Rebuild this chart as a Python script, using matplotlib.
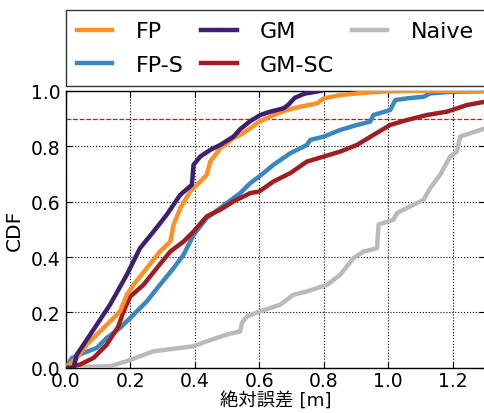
import matplotlib
matplotlib.use('Agg')
import matplotlib.pyplot as plt

plt.rcParams['font.family'] = ['DejaVu Sans', 'Noto Sans CJK JP']

# CDF curves (x = absolute error [m], y = CDF)
fp_x = [0.0, 0.034, 0.065, 0.106, 0.148, 0.168, 0.189, 0.21, 0.251, 0.292, 0.324, 0.334,
        0.355, 0.386, 0.417, 0.437, 0.448, 0.479, 0.52, 0.541, 0.572, 0.6, 0.644, 0.686,
        0.727, 0.779, 0.8, 0.851, 0.903, 0.975, 1.058, 1.3]
fp_y = [0.0, 0.036, 0.084, 0.132, 0.18, 0.204, 0.264, 0.3, 0.36, 0.42, 0.456, 0.517,
        0.577, 0.637, 0.673, 0.697, 0.745, 0.793, 0.829, 0.841, 0.865, 0.889, 0.913, 0.931,
        0.943, 0.955, 0.973, 0.985, 0.991, 0.997, 1.0, 1.0]

fps_x = [0.0, 0.003, 0.019, 0.055, 0.096, 0.127, 0.168, 0.21, 0.251, 0.292, 0.334, 0.365,
         0.396, 0.437, 0.479, 0.52, 0.541, 0.572, 0.6, 0.644, 0.696, 0.748, 0.758, 0.8,
         0.851, 0.903, 0.944, 0.954, 1.006, 1.022, 1.058, 1.11, 1.13, 1.2, 1.3]
fps_y = [0.0, 0.006, 0.036, 0.054, 0.072, 0.108, 0.144, 0.192, 0.24, 0.3, 0.36, 0.408,
         0.48, 0.541, 0.577, 0.613, 0.631, 0.667, 0.691, 0.733, 0.775, 0.805, 0.823, 0.835,
         0.859, 0.877, 0.889, 0.913, 0.931, 0.967, 0.973, 0.979, 0.991, 0.997, 0.999]

gm_x = [0.0, 0.024, 0.034, 0.055, 0.096, 0.137, 0.189, 0.23, 0.272, 0.313, 0.355, 0.391,
        0.396, 0.417, 0.448, 0.479, 0.52, 0.541, 0.572, 0.603, 0.634, 0.675, 0.69, 0.71,
        0.74, 0.79]
gm_y = [0.0, 0.0, 0.048, 0.084, 0.156, 0.228, 0.336, 0.432, 0.492, 0.553, 0.625, 0.661,
        0.733, 0.763, 0.787, 0.805, 0.835, 0.862, 0.891, 0.913, 0.925, 0.937, 0.95, 0.975,
        0.99, 1.0]

gmsc_x = [0.0, 0.003, 0.044, 0.086, 0.127, 0.163, 0.179, 0.2, 0.241, 0.282, 0.324, 0.365,
          0.396, 0.437, 0.479, 0.52, 0.541, 0.572, 0.6, 0.644, 0.696, 0.748, 0.8, 0.851,
          0.903, 0.954, 1.006, 1.058, 1.12, 1.182, 1.244, 1.3]
gmsc_y = [0.0, 0.002, 0.012, 0.036, 0.084, 0.15, 0.204, 0.258, 0.3, 0.36, 0.42, 0.456,
          0.492, 0.547, 0.571, 0.601, 0.613, 0.631, 0.637, 0.673, 0.703, 0.745, 0.763, 0.781,
          0.805, 0.841, 0.877, 0.895, 0.913, 0.925, 0.949, 0.961]

naive_x = [0.0, 0.003, 0.137, 0.189, 0.23, 0.272, 0.313, 0.396, 0.437, 0.499, 0.541, 0.546,
           0.562, 0.603, 0.665, 0.706, 0.748, 0.81, 0.851, 0.892, 0.923, 0.965, 0.97, 1.016,
           1.027, 1.068, 1.11, 1.13, 1.161, 1.192, 1.213, 1.223, 1.254, 1.3]
naive_y = [0.0, 0.002, 0.006, 0.024, 0.042, 0.06, 0.066, 0.078, 0.096, 0.12, 0.132, 0.162,
           0.186, 0.204, 0.228, 0.264, 0.276, 0.3, 0.336, 0.396, 0.42, 0.432, 0.517, 0.535,
           0.559, 0.583, 0.607, 0.649, 0.697, 0.763, 0.781, 0.835, 0.847, 0.865]

labels = ['FP', 'FP-S', 'GM', 'GM-SC', 'Naive']
colors = ['#ff9124', '#3a86c0', '#3f1f70', '#a11d22', '#bababa']
xticks = [0.0, 0.2, 0.4, 0.6, 0.8, 1.0, 1.2]
yticks = [0.0, 0.2, 0.4, 0.6, 0.8, 1.0]
threshold = 0.9

fig = plt.figure(figsize=(4.84, 4.14), dpi=100)
ax = fig.add_axes([0.136, 0.109, 0.866, 0.669])

series = [(fp_x, fp_y), (fps_x, fps_y), (gm_x, gm_y), (gmsc_x, gmsc_y), (naive_x, naive_y)]
# draw order: naive at back, then the rest
order = [4, 1, 3, 0, 2]
lines = {}
for i in order:
    x, y = series[i]
    ln, = ax.plot(x, y, color=colors[i], linewidth=3.2, label=labels[i], zorder=3)
    lines[i] = ln

ax.axhline(threshold, color='red', linestyle='--', linewidth=0.9, zorder=2)

ax.set_xlim(0, 1.3)
ax.set_ylim(0, 1.0)
ax.set_xticks(xticks)
ax.set_yticks(yticks)
ax.grid(True, color='black', linestyle=':', linewidth=0.8)
ax.tick_params(direction='in', top=True, right=True, labelsize=13.5, length=4, pad=4)
ax.tick_params(axis='x', pad=2)
for sp in ax.spines.values():
    sp.set_linewidth(1.0)

ax.set_xlabel('絶対誤差 [m]', fontsize=13.2, labelpad=1)
ax.set_ylabel('CDF', fontsize=14.5, labelpad=5)

handles = [lines[i] for i in range(5)]
leg = ax.legend(handles, labels, ncol=3, loc='lower left',
                bbox_to_anchor=(0.0, 1.018, 1.0, 0.27), mode='expand',
                fontsize=16, handlelength=1.6, handletextpad=1.05,
                labelspacing=0.6, borderaxespad=0.0, borderpad=0.5,
                fancybox=False, frameon=True)
leg.get_frame().set_edgecolor('black')
leg.get_frame().set_linewidth(1.0)

fig.savefig('out.png', dpi=100)
